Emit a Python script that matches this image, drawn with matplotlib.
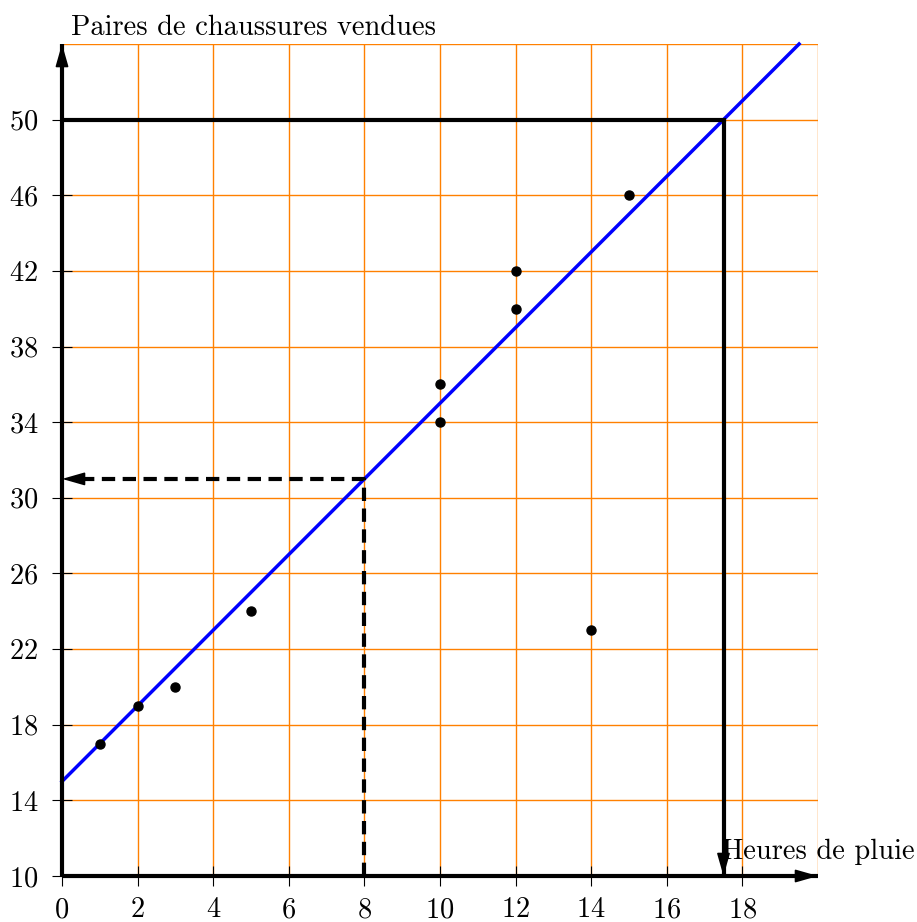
import numpy as np
import matplotlib
matplotlib.use("Agg")
import matplotlib.pyplot as plt

plt.rcParams['font.family'] = 'cmr10'
plt.rcParams['axes.formatter.use_mathtext'] = True

########
# Data
heures = [1, 2, 3, 5, 10, 10, 12, 12, 14, 15]
paires = [17, 19, 20, 24, 34, 36, 40, 42, 23, 46]
# regression line y = a x + b
a, b = 2, 15
x_lecture = 8          # read value at 8 h
y_cible = 50           # target 50 pairs
xticks = list(range(0, 20, 2))
yticks = list(range(10, 54, 4))
orange = '#ff8000'
fs = 20.5

fig = plt.figure(figsize=(9.17, 9.22), dpi=100)
ax = fig.add_axes([62/917, 46/922, 756/917, 832/922])
ax.set_xlim(0, 20)
ax.set_ylim(10, 54)
for s in ax.spines.values():
    s.set_visible(False)

# grid
for gx in range(0, 21, 2):
    ax.axvline(gx, color=orange, lw=1.0, zorder=1)
for gy in range(10, 55, 4):
    ax.axhline(gy, color=orange, lw=1.0, zorder=1)

ax.set_xticks(xticks)
ax.set_yticks(yticks)
ax.tick_params(direction='inout', length=14, width=0.8, labelsize=fs)
ax.tick_params(axis='x', pad=8)
ax.tick_params(axis='y', pad=10)

head = dict(arrowstyle='-|>,head_length=0.7,head_width=0.2', color='black',
            lw=1.2, shrinkA=0, shrinkB=0, mutation_scale=20)


def fleche(x0, y0, x1, y1, **kw):
    # thick line plus a slim arrow head at (x1, y1)
    ax.plot([x0, x1], [y0, y1], color='black', lw=3, zorder=5,
            solid_capstyle='butt', clip_on=False, **kw)
    dx, dy = x1 - x0, y1 - y0
    n = np.hypot(dx, dy)
    ax.annotate('', xy=(x1, y1), xytext=(x1 - 0.5 * dx / n, y1 - 0.5 * dy / n),
                arrowprops=head, annotation_clip=False, zorder=6)


# axes
fleche(0, 10, 20, 10)
fleche(0, 10, 0, 54)

# regression line
xl = np.array([0, (54 - b) / a])
ax.plot(xl, a * xl + b, color='#0000ff', lw=2.5, zorder=4, clip_on=False)

# points
ax.plot(heures, paires, 'o', color='black', ms=6.5, zorder=7)

# reading at x = 8
y_lu = a * x_lecture + b
ax.plot([x_lecture, x_lecture, 0.4], [10, y_lu, y_lu], color='black', lw=3,
        dashes=(3.2, 1.8), zorder=5)
ax.annotate('', xy=(0, y_lu), xytext=(0.5, y_lu), arrowprops=head, zorder=6)

# reading at y = 50
x_lu = (y_cible - b) / a
ax.plot([0, x_lu], [y_cible, y_cible], color='black', lw=3, zorder=5,
        solid_capstyle='projecting')
fleche(x_lu, y_cible, x_lu, 10)

ax.text(0.25, 54.5, 'Paires de chaussures vendues', fontsize=fs, va='baseline',
        ha='left', clip_on=False)
ax.text(17.45, 10.9, 'Heures de pluie', fontsize=fs, va='baseline', ha='left',
        clip_on=False)

fig.savefig('out.png', dpi=100)
